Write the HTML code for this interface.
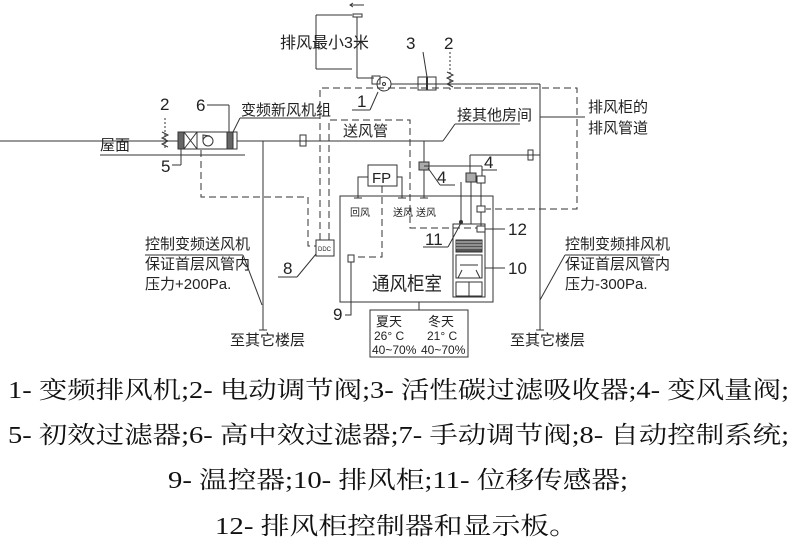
<!DOCTYPE html>
<html><head><meta charset="utf-8"><style>
html,body{margin:0;padding:0;background:#fff;}
svg{display:block;}
.t{font-family:"Liberation Sans","Noto Sans CJK SC",sans-serif;fill:#222;}
.l{font-family:"Liberation Serif","Noto Serif CJK SC",serif;fill:#111;font-size:24px;}
</style></head><body>
<svg width="794" height="544" viewBox="0 0 794 544" xmlns="http://www.w3.org/2000/svg">
<g stroke="#333" stroke-width="1" fill="none">
<line x1="350" y1="5" x2="364" y2="5"/><path d="M353 3 L350 5 L353 7"/>
<rect x="353" y="14" width="9" height="3"/>
<line x1="357" y1="17" x2="357" y2="78"/><line x1="357" y1="78" x2="374" y2="78"/>
<line x1="316" y1="15" x2="316" y2="69"/><line x1="316" y1="15" x2="352" y2="15"/><line x1="316" y1="69" x2="352" y2="69"/>
<rect x="372" y="76" width="8" height="8"/>
<circle cx="384" cy="84" r="7"/><circle cx="384" cy="84" r="1.5"/>
<line x1="391" y1="84" x2="540" y2="84"/>
<rect x="418" y="77" width="18" height="13"/><line x1="427" y1="77" x2="427" y2="90" stroke-width="2"/>
<line x1="423" y1="52" x2="427" y2="77"/>
<line x1="450" y1="52" x2="450" y2="92" stroke-dasharray="2,2"/>
<path d="M447 72 L453 75 L447 78 L453 81 L447 84 L453 87"/>
<line x1="378" y1="92" x2="370" y2="110"/><line x1="370" y1="110" x2="352" y2="110"/>
<line x1="540" y1="84" x2="540" y2="330"/><path d="M536 330 L544 330"/>
<line x1="540" y1="117" x2="585" y2="117"/>
<g stroke-dasharray="7,4">
<path d="M320 240 L320 88 L577 88 L577 209 L486 209"/>
<path d="M329 240 L329 120 L410 120 L410 228 L477 228"/>
<path d="M201 150 L201 197 L308 197 L308 246 L316 246"/>
<path d="M382 186 L382 257 L354 257"/>
</g>
<line x1="0" y1="141" x2="178" y2="141"/>
<line x1="165" y1="118" x2="165" y2="150" stroke-dasharray="2,2"/>
<path d="M162 132 L168 135 L162 138 L168 141 L162 144 L168 147"/>
<rect x="178" y="132" width="59" height="17"/>
<rect x="178" y="132" width="6" height="17" fill="#666"/>
<rect x="184" y="132" width="13" height="17"/><path d="M184 132 L197 149 M197 132 L184 149"/>
<rect x="227" y="132" width="6" height="17" fill="#666"/>
<circle cx="208" cy="141" r="5"/><path d="M203 141 L203 135 L210 136"/>
<line x1="100" y1="155" x2="245" y2="155"/>
<line x1="181" y1="149" x2="181" y2="165"/><line x1="181" y1="165" x2="172" y2="165"/>
<line x1="207" y1="105" x2="229" y2="105"/><line x1="229" y1="105" x2="229" y2="132"/>
<line x1="240" y1="118" x2="320" y2="118"/><line x1="240" y1="118" x2="233" y2="132"/>
<line x1="237" y1="141" x2="443" y2="141"/>
<rect x="300" y="135" width="6" height="11"/>
<line x1="263" y1="141" x2="263" y2="330"/><path d="M259 330 L267 330"/>
<line x1="145" y1="255" x2="243" y2="255"/><line x1="243" y1="255" x2="262" y2="305"/>
<line x1="455" y1="124" x2="520" y2="124"/><line x1="455" y1="124" x2="443" y2="141"/>
<rect x="316" y="240" width="18" height="16" fill="#fff"/>
<line x1="316" y1="254" x2="297" y2="277"/><line x1="297" y1="277" x2="278" y2="277"/>
<line x1="424" y1="141" x2="424" y2="198"/>
<rect x="419" y="162" width="10" height="8" fill="#aaa"/>
<line x1="428" y1="168" x2="440" y2="185"/><line x1="440" y1="185" x2="455" y2="185"/>
<line x1="424" y1="166" x2="482" y2="166"/><line x1="482" y1="166" x2="482" y2="176"/>
<rect x="368" y="165" width="29" height="21"/>
<path d="M368 177 L358 177 L358 198 M397 177 L402 177 L402 198"/>
<path d="M354 198 L362 198 M398 198 L406 198 M420 198 L428 198"/>
<rect x="340" y="196" width="153" height="106"/>
<rect x="348" y="255" width="6" height="7"/>
<path d="M351 262 L351 315 L345 315"/>
<line x1="419" y1="302" x2="419" y2="310"/>
<rect x="370" y="310" width="98" height="47"/>
<line x1="470" y1="155" x2="540" y2="155"/>
<rect x="528" y="150" width="5" height="10"/>
<line x1="470" y1="155" x2="470" y2="173"/>
<rect x="466" y="173" width="10" height="9" fill="#aaa"/>
<rect x="477" y="176" width="8" height="7"/>
<line x1="482" y1="170" x2="497" y2="170"/>
<line x1="461" y1="182" x2="461" y2="222"/>
<line x1="471" y1="182" x2="471" y2="224"/>
<line x1="481" y1="183" x2="481" y2="206"/>
<rect x="477" y="206" width="8" height="6"/>
<line x1="481" y1="212" x2="481" y2="226"/>
<rect x="453" y="224" width="32" height="73"/>
<rect x="477" y="226" width="8" height="6"/>
<rect x="456" y="240" width="26" height="12" fill="#555"/>
<path d="M456 242 H482 M456 245 H482 M456 248 H482" stroke="#ccc"/>
<rect x="456" y="255" width="26" height="23"/>
<path d="M460 265 L478 265 M458 278 L462 270 M480 278 L476 270"/>
<rect x="456" y="282" width="26" height="14"/><line x1="469" y1="282" x2="469" y2="296"/>
<circle cx="461" cy="222" r="1.5" fill="#333"/>
<line x1="485" y1="229" x2="505" y2="229"/><line x1="485" y1="268" x2="505" y2="268"/>
<line x1="423" y1="247" x2="448" y2="247"/><line x1="448" y1="247" x2="461" y2="223"/>
<line x1="565" y1="255" x2="660" y2="255"/><line x1="565" y1="255" x2="540" y2="300"/>
</g>
<g class="t" font-size="15">
<text x="280" y="48" font-size="16">排风最小3米</text>
<text x="406" y="49" font-size="17">3</text><text x="444" y="49" font-size="17">2</text>
<text x="357" y="107" font-size="17">1</text>
<text x="160" y="110" font-size="17">2</text><text x="196" y="111" font-size="17">6</text>
<text x="241" y="115">变频新风机组</text>
<text x="100" y="150">屋面</text>
<text x="161" y="172" font-size="17">5</text>
<text x="343" y="136">送风管</text>
<text x="457" y="120">接其他房间</text>
<text x="588" y="112">排风柜的</text><text x="588" y="133">排风管道</text>
<text x="372" y="183" font-size="15">FP</text>
<text x="350" y="216" font-size="10">回风</text><text x="393" y="216" font-size="10">送风</text><text x="416" y="216" font-size="10">送风</text>
<text x="318" y="251" font-size="6">DDC</text>
<text x="283" y="274" font-size="17">8</text>
<text x="333" y="320" font-size="17">9</text>
<text x="372" y="290" font-size="19" textLength="70" lengthAdjust="spacingAndGlyphs">通风柜室</text>
<text x="508" y="235" font-size="17">12</text><text x="508" y="274" font-size="17">10</text>
<text x="425" y="245" font-size="17">11</text>
<text x="437" y="183" font-size="17">4</text><text x="484" y="168" font-size="17">4</text>
<text x="145" y="249">控制变频送风机</text><text x="145" y="269">保证首层风管内</text><text x="145" y="289">压力+200Pa.</text>
<text x="565" y="249">控制变频排风机</text><text x="565" y="269">保证首层风管内</text><text x="565" y="289">压力-300Pa.</text>
<text x="230" y="345">至其它楼层</text><text x="510" y="345">至其它楼层</text>
<text x="376" y="326" font-size="13">夏天</text><text x="428" y="326" font-size="13">冬天</text>
<text x="374" y="340" font-size="12">26° C</text><text x="427" y="340" font-size="12">21° C</text>
<text x="372" y="354" font-size="12">40~70%</text><text x="421" y="354" font-size="12">40~70%</text>
</g>
<g class="l">
<text x="8" y="398" textLength="781" lengthAdjust="spacingAndGlyphs">1- 变频排风机;2- 电动调节阀;3- 活性碳过滤吸收器;4- 变风量阀;</text>
<text x="8" y="443" textLength="781" lengthAdjust="spacingAndGlyphs">5- 初效过滤器;6- 高中效过滤器;7- 手动调节阀;8- 自动控制系统;</text>
<text x="168" y="488" textLength="460" lengthAdjust="spacingAndGlyphs">9- 温控器;10- 排风柜;11- 位移传感器;</text>
<text x="215" y="534" textLength="363" lengthAdjust="spacingAndGlyphs">12- 排风柜控制器和显示板。</text>
</g>
</svg>
</body></html>
